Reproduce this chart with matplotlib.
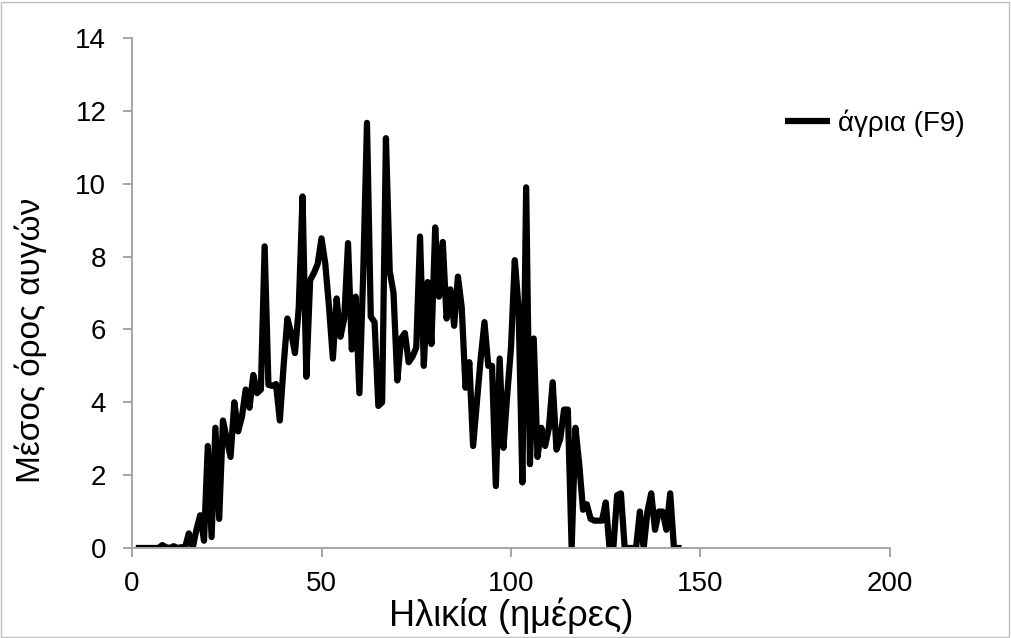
import matplotlib
matplotlib.use("Agg")
import matplotlib.pyplot as plt
from matplotlib.patches import Rectangle

days = list(range(1, 146))
eggs = [
    0, 0, 0, 0, 0, 0, 0, 0.08, 0.02, 0,            # 1-10
    0.05, 0, 0.02, 0.02, 0.4, 0, 0.5, 0.9, 0.2, 2.8,  # 11-20
    0.3, 3.3, 0.8, 3.5, 3.0, 2.5, 4.0, 3.2, 3.6, 4.35,  # 21-30
    3.85, 4.75, 4.25, 4.35, 8.28, 4.48, 4.45, 4.5, 3.5, 5.0,  # 31-40
    6.3, 5.9, 5.35, 6.6, 9.65, 4.7, 7.35, 7.55, 7.8, 8.5,  # 41-50
    7.8, 6.6, 5.2, 6.85, 5.8, 6.3, 8.37, 5.45, 6.9, 4.25,  # 51-60
    7.5, 11.67, 6.35, 6.2, 3.9, 4.0, 11.25, 7.6, 7.0, 4.6,  # 61-70
    5.75, 5.9, 5.1, 5.25, 5.5, 8.55, 5.0, 7.3, 5.6, 8.8,  # 71-80
    6.9, 8.4, 6.3, 7.1, 6.1, 7.45, 6.6, 4.4, 5.1, 2.8,  # 81-90
    4.0, 5.2, 6.2, 5.0, 5.0, 1.7, 5.2, 2.75, 4.2, 5.5,  # 91-100
    7.9, 6.6, 1.8, 9.9, 2.3, 5.75, 2.5, 3.3, 2.8, 3.3,  # 101-110
    4.55, 2.7, 3.0, 3.8, 3.8, 0, 3.3, 2.3, 1.05, 1.2,  # 111-120
    0.8, 0.75, 0.75, 0.75, 1.25, 0, 0, 1.45, 1.5, 0,  # 121-130
    0, 0, 0, 1.0, 0, 1.0, 1.5, 0.5, 1.0, 1.0,  # 131-140
    0.5, 1.5, 0, 0, 0,  # 141-145
]

x_ticks = [0, 50, 100, 150, 200]
y_ticks = [0, 2, 4, 6, 8, 10, 12, 14]
series_label = "άγρια (F9)"
x_label = "Ηλικία (ημέρες)"
y_label = "Μέσος όρος αυγών"

plt.rcParams['font.family'] = ['Liberation Sans', 'DejaVu Sans']

W, H = 1011, 638
fig = plt.figure(figsize=(W / 100, H / 100), dpi=100)
ax = fig.add_axes([132 / W, (H - 548) / H, (890 - 132) / W, (548 - 38) / H])

ax.plot(days, eggs, color='black', lw=4.5, solid_joinstyle='round',
        solid_capstyle='butt', label=series_label)

ax.set_xlim(0, 200)
ax.set_ylim(0, 14)
ax.set_xticks(x_ticks)
ax.set_yticks(y_ticks)

grey = '#a6a6a6'
for s in ['top', 'right']:
    ax.spines[s].set_visible(False)
for s in ['left', 'bottom']:
    ax.spines[s].set_color(grey)
    ax.spines[s].set_linewidth(1.4)
ax.tick_params(axis='both', direction='out', length=6.5, width=1.4, color=grey,
               labelsize=20, labelcolor='black')
ax.tick_params(axis='y', pad=12)
ax.tick_params(axis='x', pad=10)

ax.set_xlabel(x_label, fontsize=26)
ax.set_ylabel(y_label, fontsize=24)
ax.xaxis.set_label_coords(0.5, -(597 - 548) / 510)
ax.yaxis.set_label_coords(-(132 - 47) / 758, (548 - 340) / 510)

fs_leg = 20
ax.legend(loc='center left', bbox_to_anchor=(785 / W, 1 - 123 / H),
          bbox_transform=fig.transFigure, frameon=False, fontsize=fs_leg,
          borderpad=0, borderaxespad=0,
          handlelength=45 / (fs_leg * 100 / 72), handletextpad=8 / (fs_leg * 100 / 72))

fig.patches.append(Rectangle((0.001, 0.002), 0.997, 0.995, transform=fig.transFigure,
                             fill=False, edgecolor='#bfbfbf', lw=1.0))

fig.savefig('out.png', dpi=100, facecolor='white')
